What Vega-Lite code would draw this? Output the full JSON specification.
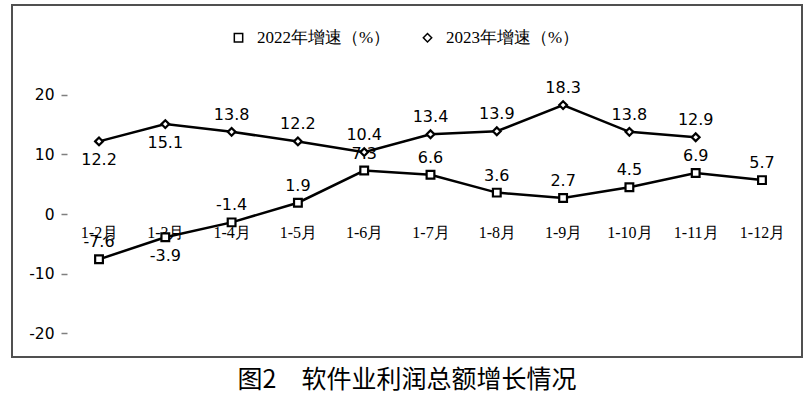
{
  "$schema": "https://vega.github.io/schema/vega-lite/v6.json",
  "width": 790,
  "height": 352,
  "padding": {"left": 12, "top": 5, "right": 6, "bottom": 5},
  "autosize": {"type": "pad"},
  "background": "white",
  "config": {
    "view": {"stroke": "#505050", "strokeWidth": 2},
    "font": "DejaVu Sans"
  },
  "title": {
    "text": "图2　软件业利润总额增长情况",
    "orient": "bottom",
    "anchor": "middle",
    "font": "Noto Sans CJK SC",
    "fontSize": 25,
    "fontWeight": "normal",
    "color": "black",
    "offset": 11
  },
  "data": {
    "values": [
      {"m": "1-2月", "s": "2022年增速（%）", "v": -7.6},
      {"m": "1-3月", "s": "2022年增速（%）", "v": -3.9},
      {"m": "1-4月", "s": "2022年增速（%）", "v": -1.4},
      {"m": "1-5月", "s": "2022年增速（%）", "v": 1.9},
      {"m": "1-6月", "s": "2022年增速（%）", "v": 7.3},
      {"m": "1-7月", "s": "2022年增速（%）", "v": 6.6},
      {"m": "1-8月", "s": "2022年增速（%）", "v": 3.6},
      {"m": "1-9月", "s": "2022年增速（%）", "v": 2.7},
      {"m": "1-10月", "s": "2022年增速（%）", "v": 4.5},
      {"m": "1-11月", "s": "2022年增速（%）", "v": 6.9},
      {"m": "1-12月", "s": "2022年增速（%）", "v": 5.7},
      {"m": "1-2月", "s": "2023年增速（%）", "v": 12.2},
      {"m": "1-3月", "s": "2023年增速（%）", "v": 15.1},
      {"m": "1-4月", "s": "2023年增速（%）", "v": 13.8},
      {"m": "1-5月", "s": "2023年增速（%）", "v": 12.2},
      {"m": "1-6月", "s": "2023年增速（%）", "v": 10.4},
      {"m": "1-7月", "s": "2023年增速（%）", "v": 13.4},
      {"m": "1-8月", "s": "2023年增速（%）", "v": 13.9},
      {"m": "1-9月", "s": "2023年增速（%）", "v": 18.3},
      {"m": "1-10月", "s": "2023年增速（%）", "v": 13.8},
      {"m": "1-11月", "s": "2023年增速（%）", "v": 12.9}
    ]
  },
  "encoding": {
    "x": {
      "field": "m",
      "type": "ordinal",
      "sort": ["1-2月", "1-3月", "1-4月", "1-5月", "1-6月", "1-7月", "1-8月", "1-9月", "1-10月", "1-11月", "1-12月"],
      "scale": {"type": "point", "padding": 0.958, "align": 0.685},
      "axis": {
        "title": null,
        "orient": "bottom",
        "offset": -143,
        "domain": false,
        "ticks": false,
        "grid": false,
        "labelPadding": 10,
        "labelFont": "Liberation Serif",
        "labelFontSize": 16,
        "labelAngle": 0,
        "labelColor": "black",
        "labelOverlap": false
      }
    },
    "y": {
      "field": "v",
      "type": "quantitative",
      "scale": {"domain": [-24, 35.1], "nice": false, "zero": false},
      "axis": {
        "title": null,
        "values": [-20, -10, 0, 10, 20],
        "labelExpr": "'' + datum.value",
        "offset": -55,
        "domain": false,
        "grid": false,
        "tickSize": 6,
        "tickColor": "#7f7f7f",
        "tickWidth": 1.5,
        "labelPadding": 7,
        "labelFont": "DejaVu Sans",
        "labelFontSize": 15.5,
        "labelColor": "black"
      }
    }
  },
  "layer": [
    {
      "data": {"values": [{}]},
      "mark": {"type": "rule", "color": "#7f7f7f", "strokeWidth": 1.5, "xOffset": -32},
      "encoding": {
        "x": {"datum": "1-2月", "type": "ordinal"},
        "y": {"datum": -20, "type": "quantitative"},
        "y2": {"datum": 25}
      }
    },
    {
      "data": {"values": [{}]},
      "mark": {"type": "rule", "color": "#7f7f7f", "strokeWidth": 1.5, "xOffset": -32, "x2Offset": 35},
      "encoding": {
        "x": {"datum": "1-2月", "type": "ordinal"},
        "x2": {"datum": "1-12月"},
        "y": {"datum": 0, "type": "quantitative"}
      }
    },
    {
      "mark": {"type": "line", "color": "black", "strokeWidth": 2.5},
      "encoding": {"detail": {"field": "s", "type": "nominal"}}
    },
    {
      "mark": {"type": "point", "color": "black", "fill": "white", "fillOpacity": 1, "strokeWidth": 2.2, "size": 60},
      "encoding": {
        "shape": {
          "field": "s",
          "type": "nominal",
          "scale": {"domain": ["2022年增速（%）", "2023年增速（%）"], "range": ["square", "diamond"]},
          "legend": {
            "orient": "none",
            "legendX": 218,
            "legendY": 24,
            "direction": "horizontal",
            "title": null,
            "labelFont": "Liberation Serif",
            "labelFontSize": 17,
            "labelColor": "black",
            "labelOffset": 10,
            "columnPadding": 28,
            "symbolSize": 70
          }
        }
      }
    },
    {
      "transform": [{"filter": "!((datum.s === '2022年增速（%）' && datum.m === '1-3月') || (datum.s === '2023年增速（%）' && (datum.m === '1-2月' || datum.m === '1-3月')))"}],
      "mark": {"type": "text", "dy": -17, "fontSize": 16, "font": "DejaVu Sans", "color": "black"},
      "encoding": {"text": {"field": "v", "type": "nominal"}}
    },
    {
      "transform": [{"filter": "(datum.s === '2022年增速（%）' && datum.m === '1-3月') || (datum.s === '2023年增速（%）' && (datum.m === '1-2月' || datum.m === '1-3月'))"}],
      "mark": {"type": "text", "dy": 19, "fontSize": 16, "font": "DejaVu Sans", "color": "black"},
      "encoding": {"text": {"field": "v", "type": "nominal"}}
    }
  ]
}
